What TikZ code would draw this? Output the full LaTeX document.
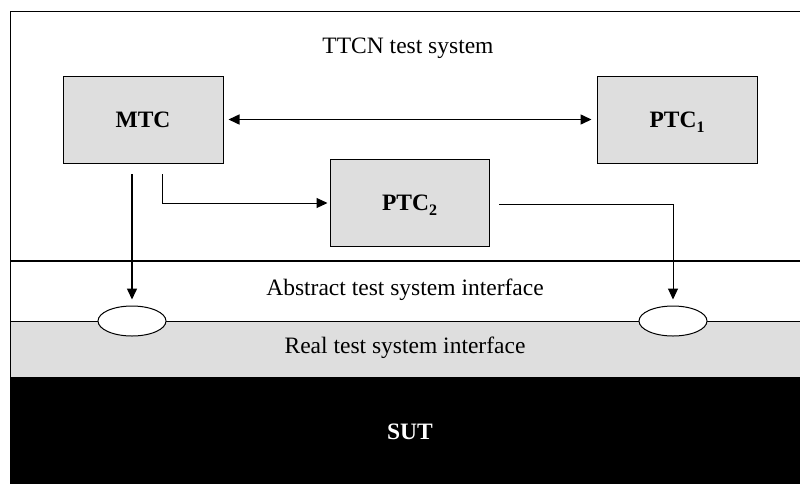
\documentclass[tikz,border=0pt]{standalone}
\usepackage{fontspec}
\setmainfont{Liberation Serif}
\usetikzlibrary{arrows.meta,shapes.geometric}
\definecolor{boxgray}{HTML}{DEDEDE}
\newcommand{\lowsub}[1]{\raisebox{-5pt}[0pt][0pt]{\fontsize{16}{16}\selectfont\bfseries #1}}
\begin{document}
\begin{tikzpicture}[x=1pt,y=-1pt,
  box/.style={draw, fill=boxgray, line width=1pt, minimum width=160pt, minimum height=87pt, inner sep=0pt, font=\fontsize{23.5}{28}\selectfont\bfseries},
  lbl/.style={font=\fontsize{23.5}{28}\selectfont, inner sep=0pt},
  arr/.style={line width=1.5pt, -{Triangle[length=11pt,width=10pt]}},
  thinarr/.style={line width=1pt, -{Triangle[length=11pt,width=10pt]}},
  port/.style={draw, ellipse, fill=white, minimum width=68pt, minimum height=30pt, inner sep=0pt, line width=1pt}]
\useasboundingbox (0,0) rectangle (800,483);
% layers
\fill[boxgray] (10,321) rectangle (805,377);
\fill[black] (10,377) rectangle (805,488);
\draw[line width=1pt] (805,11) -- (10,11) -- (10,488);
\draw[line width=1.5pt] (10,261) -- (805,261);
\draw[line width=0.8pt] (10,321) -- (805,321);
% texts
\node[lbl] (ttcn) at (408,48) {TTCN test system};
\node[lbl] (ats) at (405,290) {Abstract test system interface};
\node[lbl] (rts) at (405,348) {Real test system interface};
\node[lbl, text=white, font=\fontsize{23.5}{28}\selectfont\bfseries] (sut) at (410,432) {SUT};
% boxes
\node[box] (MTC) at (143,119.5) {MTC};
\node[box] (PTC1) at (677,119.5) {PTC\lowsub{1}};
\node[box, minimum width=159pt] (PTC2) at (409.5,203) {PTC\lowsub{2}};
% ports
\node[port] (p1) at (132,321) {};
\node[port] (p2) at (673,321) {};
% connectors
\coordinate (m1) at (132,174);
\coordinate (m2) at (162,174);
\coordinate (q) at (499,204);
\draw[arr, {Triangle[length=11pt,width=10pt]}-{Triangle[length=11pt,width=10pt]}, shorten <=5pt, shorten >=5pt] (MTC) -- (PTC1);
\draw[thinarr, shorten >=2pt] (m2) |- (PTC2.west);
\draw[arr, shorten >=6pt] (m1) -- (p1.north);
\draw[thinarr, shorten >=6pt] (q) -| (p2.north);
\end{tikzpicture}
\end{document}
